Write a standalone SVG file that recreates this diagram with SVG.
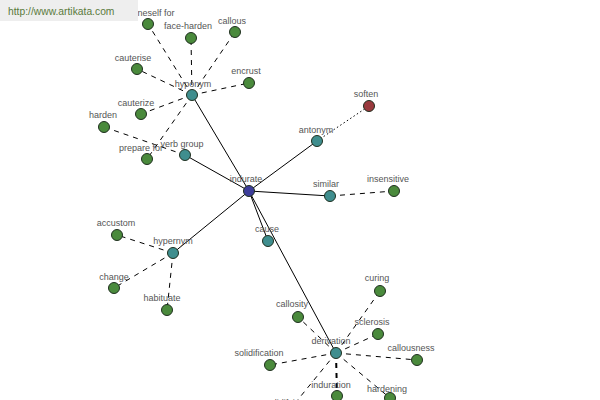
<svg xmlns="http://www.w3.org/2000/svg" width="600" height="400" viewBox="0 0 600 400">
<style>
.bg{fill:#ffffff}
.e{stroke:#000;stroke-width:1;fill:none}
.d{stroke-dasharray:5,5}
.dot{stroke-dasharray:1.5,2.5}
.thick{stroke-width:2}
.n{stroke:#1f2f1f;stroke-width:1}
.leaf{fill:#4a8a3c}
.rel{fill:#3f8e8e}
.root{fill:#3d3d9a}
.ant{fill:#9a3a3e}
.l{font-family:"Liberation Sans",Arial,sans-serif;font-size:9px;fill:#555;text-anchor:middle}
.wm{font-family:"Liberation Sans",Arial,sans-serif;font-size:10.3px;fill:#5a7a3c}
</style>
<rect class="bg" x="0" y="0" width="600" height="400"/>
<g id="connectors">
<line class="e" x1="249" y1="191" x2="192" y2="95"/>
<line class="e" x1="249" y1="191" x2="185" y2="155"/>
<line class="e" x1="249" y1="191" x2="317" y2="141"/>
<line class="e" x1="249" y1="191" x2="330" y2="196"/>
<line class="e" x1="249" y1="191" x2="268" y2="241"/>
<line class="e" x1="249" y1="191" x2="173" y2="253"/>
<line class="e" x1="249" y1="191" x2="336" y2="353"/>
<line class="e d" x1="192" y1="95" x2="148" y2="24"/>
<line class="e d" x1="192" y1="95" x2="191" y2="38"/>
<line class="e d" x1="192" y1="95" x2="235" y2="32"/>
<line class="e d" x1="192" y1="95" x2="137" y2="69"/>
<line class="e d" x1="192" y1="95" x2="249" y2="83"/>
<line class="e d" x1="192" y1="95" x2="141" y2="114"/>
<line class="e d" x1="192" y1="95" x2="147" y2="159"/>
<line class="e d" x1="185" y1="155" x2="104" y2="127"/>
<line class="e dot" x1="317" y1="141" x2="369" y2="106"/>
<line class="e d" x1="330" y1="196" x2="394" y2="191"/>
<line class="e d" x1="173" y1="253" x2="117" y2="235"/>
<line class="e d" x1="173" y1="253" x2="114" y2="288"/>
<line class="e d" x1="173" y1="253" x2="167" y2="310"/>
<line class="e d" x1="336" y1="353" x2="380" y2="291"/>
<line class="e d" x1="336" y1="353" x2="298" y2="317"/>
<line class="e d" x1="336" y1="353" x2="378" y2="334"/>
<line class="e d" x1="336" y1="353" x2="417" y2="360"/>
<line class="e d" x1="336" y1="353" x2="270" y2="365"/>
<line class="e d thick" x1="336" y1="353" x2="337" y2="396"/>
<line class="e d" x1="336" y1="353" x2="390" y2="398"/>
<line class="e d" x1="336" y1="353" x2="287" y2="413"/>
</g>
<g id="indurate"><circle class="n root" cx="249" cy="191" r="5.5"/><text class="l" x="246" y="182">indurate</text></g>
<g id="hyponym"><circle class="n rel" cx="192" cy="95" r="5.5"/><text class="l" x="193" y="87">hyponym</text></g>
<g id="verb-group"><circle class="n rel" cx="185" cy="155" r="5.5"/><text class="l" x="182" y="147">verb group</text></g>
<g id="antonym"><circle class="n rel" cx="317" cy="141" r="5.5"/><text class="l" x="316" y="133">antonym</text></g>
<g id="similar"><circle class="n rel" cx="330" cy="196" r="5.5"/><text class="l" x="326" y="187">similar</text></g>
<g id="cause"><circle class="n rel" cx="268" cy="241" r="5.5"/><text class="l" x="267" y="232">cause</text></g>
<g id="hypernym"><circle class="n rel" cx="173" cy="253" r="5.5"/><text class="l" x="173" y="244">hypernym</text></g>
<g id="derivation"><circle class="n rel" cx="336" cy="353" r="5.5"/><text class="l" x="331" y="344">derivation</text></g>
<g id="soften"><circle class="n ant" cx="369" cy="106" r="5.5"/><text class="l" x="366" y="97">soften</text></g>
<g id="insensitive"><circle class="n leaf" cx="394" cy="191" r="5.5"/><text class="l" x="388" y="182">insensitive</text></g>
<g id="brace-oneself-for"><circle class="n leaf" cx="148" cy="24" r="5.5"/><text class="l" x="141" y="16">brace oneself for</text></g>
<g id="face-harden"><circle class="n leaf" cx="191" cy="38" r="5.5"/><text class="l" x="188" y="29">face-harden</text></g>
<g id="callous"><circle class="n leaf" cx="235" cy="32" r="5.5"/><text class="l" x="232" y="24">callous</text></g>
<g id="cauterise"><circle class="n leaf" cx="137" cy="69" r="5.5"/><text class="l" x="133" y="61">cauterise</text></g>
<g id="encrust"><circle class="n leaf" cx="249" cy="83" r="5.5"/><text class="l" x="246" y="74">encrust</text></g>
<g id="cauterize"><circle class="n leaf" cx="141" cy="114" r="5.5"/><text class="l" x="136" y="106">cauterize</text></g>
<g id="harden"><circle class="n leaf" cx="104" cy="127" r="5.5"/><text class="l" x="103" y="118">harden</text></g>
<g id="prepare-for"><circle class="n leaf" cx="147" cy="159" r="5.5"/><text class="l" x="141" y="151">prepare for</text></g>
<g id="accustom"><circle class="n leaf" cx="117" cy="235" r="5.5"/><text class="l" x="116" y="226">accustom</text></g>
<g id="change"><circle class="n leaf" cx="114" cy="288" r="5.5"/><text class="l" x="114" y="280">change</text></g>
<g id="habituate"><circle class="n leaf" cx="167" cy="310" r="5.5"/><text class="l" x="162" y="301">habituate</text></g>
<g id="curing"><circle class="n leaf" cx="380" cy="291" r="5.5"/><text class="l" x="377" y="281">curing</text></g>
<g id="callosity"><circle class="n leaf" cx="298" cy="317" r="5.5"/><text class="l" x="292" y="307">callosity</text></g>
<g id="sclerosis"><circle class="n leaf" cx="378" cy="334" r="5.5"/><text class="l" x="372" y="325">sclerosis</text></g>
<g id="callousness"><circle class="n leaf" cx="417" cy="360" r="5.5"/><text class="l" x="411" y="351">callousness</text></g>
<g id="solidification"><circle class="n leaf" cx="270" cy="365" r="5.5"/><text class="l" x="259" y="356">solidification</text></g>
<g id="induration"><circle class="n leaf" cx="337" cy="396" r="5.5"/><text class="l" x="331" y="388">induration</text></g>
<g id="hardening"><circle class="n leaf" cx="390" cy="398" r="5.5"/><text class="l" x="387" y="392">hardening</text></g>
<g id="solidifying"><circle class="n leaf" cx="287" cy="413" r="5.5"/><text class="l" x="285" y="406">solidifying</text></g>
<g id="watermark"><rect x="0" y="0" width="138" height="21" fill="#eeeeee"/><text class="wm" x="8" y="15">http://www.artikata.com</text></g>
</svg>
